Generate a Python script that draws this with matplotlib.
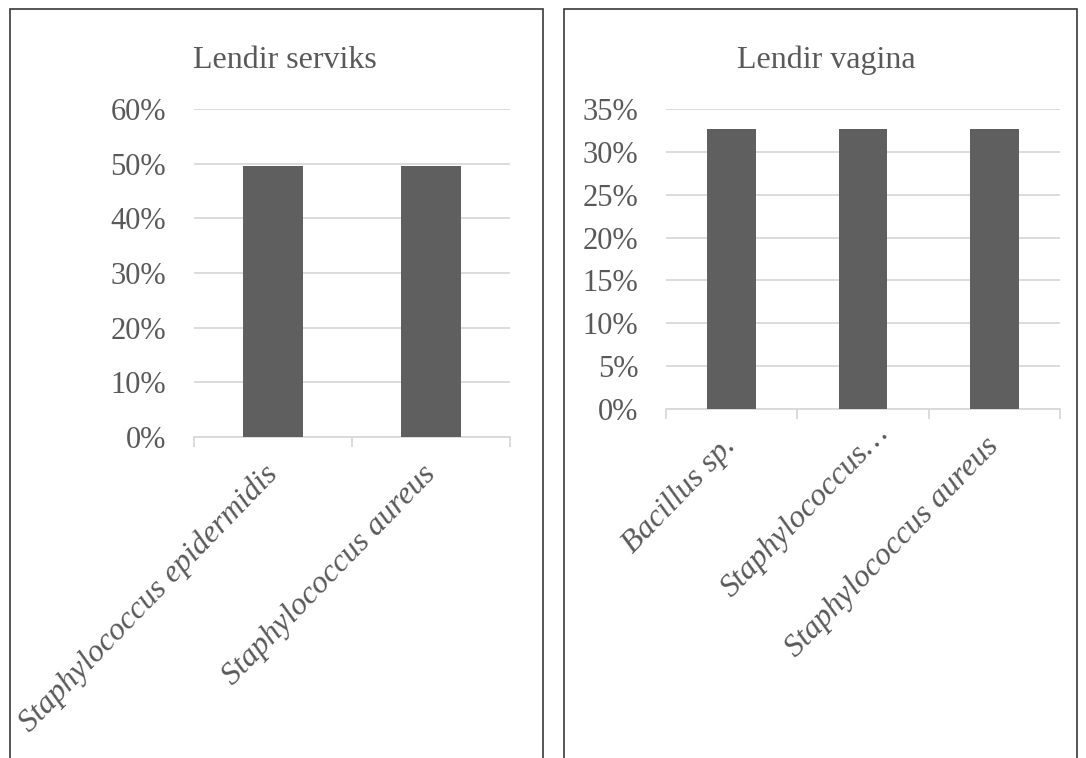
import numpy as np
import matplotlib
matplotlib.use("Agg")
import matplotlib.pyplot as plt
import matplotlib.transforms as mtransforms
from matplotlib.patches import Rectangle
from matplotlib.ticker import FuncFormatter, FixedLocator

# ── data ──────────────────────────────────────────────────────────────────────
serviks_labels = ["Staphylococcus epidermidis", "Staphylococcus aureus"]
serviks_values = [0.496, 0.496]

vagina_labels = ["Bacillus sp.", "Staphylococcus\u2026", "Staphylococcus aureus"]
vagina_values = [0.327, 0.327, 0.327]

TEXT = "#595959"
GRID = "#d9d9d9"
BAR = "#5f5f5f"

plt.rcParams["font.family"] = ["Liberation Serif", "DejaVu Serif"]

W, H = 1086, 758
fig = plt.figure(figsize=(W / 100, H / 100), dpi=100)


def px(x0, y_top, x1, y_bot):
    """pixel box -> figure fraction [left, bottom, width, height]"""
    return [x0 / W, 1 - y_bot / H, (x1 - x0) / W, (y_bot - y_top) / H]


def draw_panel(rect, labels, values, ymax, step, width, title, title_x):
    ax = fig.add_axes(rect)
    x = np.arange(len(labels))
    ax.bar(x, values, width=width, color=BAR, zorder=3)

    ax.set_xlim(-0.5, len(labels) - 0.5)
    ax.set_ylim(0, ymax)
    ax.set_yticks(np.arange(0, ymax + step / 2, step))
    ax.yaxis.set_major_formatter(FuncFormatter(lambda v, _: f"{v * 100:.0f}%"))
    ax.grid(axis="y", color=GRID, linewidth=1.3, zorder=0)

    ax.set_xticks(x)
    ax.set_xticklabels(labels, rotation=46, ha="right", va="center",
                       rotation_mode="anchor", style="italic",
                       fontsize=23, color=TEXT)
    ax.xaxis.set_minor_locator(FixedLocator(np.arange(len(labels) + 1) - 0.5))
    ax.tick_params(axis="x", which="major", length=0, pad=23.5)
    ax.tick_params(axis="x", which="minor", length=7.5, color=GRID, width=1.3)
    ax.tick_params(axis="y", length=0, pad=20, labelsize=22, labelcolor=TEXT)

    for s in ("top", "left", "right"):
        ax.spines[s].set_visible(False)
    ax.spines["bottom"].set_color(GRID)
    ax.spines["bottom"].set_linewidth(1.3)
    ax.set_axisbelow(True)

    fig.text(title_x / W, 1 - 68 / H, title, ha="center", va="baseline",
             fontsize=23, color=TEXT)
    return ax


draw_panel(px(194, 109, 510, 437), serviks_labels, serviks_values,
           0.60, 0.10, 0.38, "Lendir serviks", 285)
ax2 = draw_panel(px(666, 109, 1060, 409), vagina_labels, vagina_values,
                 0.35, 0.05, 0.37, "Lendir vagina", 826)

# the truncated middle label sits a little further right in the original
mid = ax2.get_xticklabels()[1]
mid.set_transform(mid.get_transform() +
                  mtransforms.ScaledTranslation(21 / 100, 13 / 100,
                                                fig.dpi_scale_trans))

# chart borders (bottom edges fall outside the picture)
for x0, x1 in ((10, 543), (564, 1077)):
    fig.add_artist(Rectangle((x0 / W, -0.05), (x1 - x0) / W, 1 - 9 / H + 0.05,
                             transform=fig.transFigure, fill=False,
                             edgecolor="#3a3a3a", linewidth=1.2))

fig.savefig("out.png", dpi=100)
